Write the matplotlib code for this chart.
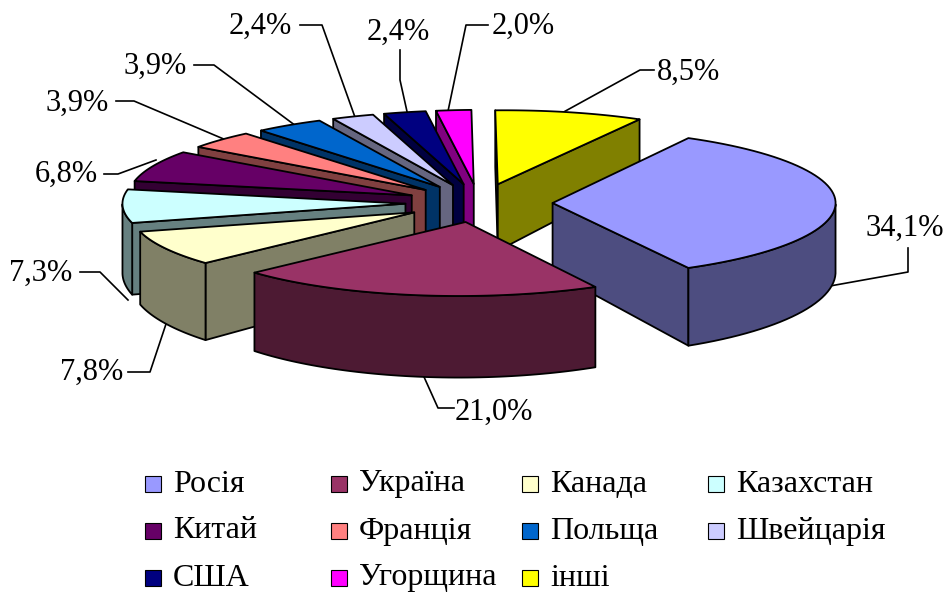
import numpy as np
import matplotlib
matplotlib.use("Agg")
import matplotlib.pyplot as plt
from matplotlib.patches import Polygon, Rectangle

categories = ["Росія", "Україна", "Канада", "Казахстан", "Китай", "Франція",
              "Польща", "Швейцарія", "США", "Угорщина", "інші"]
values = [34.1, 21.0, 7.8, 7.3, 6.8, 3.9, 3.9, 2.4, 2.4, 2.0, 8.5]
top_colors = ["#9999FF", "#993366", "#FFFFCC", "#CCFFFF", "#660066", "#FF8080",
              "#0066CC", "#CCCCFF", "#000080", "#FF00FF", "#FFFF00"]

plt.rcParams["font.family"] = ["Liberation Serif", "DejaVu Serif"]

# projection of the pie plane, in image pixels
CX, CY = 479, 203
RX, RY = 283, 74
EXPLODE = 0.26
DEPTH = 69
DEPTH_SLOPE = 10
SHEAR = 7


def project(u, v, shear=0.0, down=False):
    y = CY + RY * v + ((DEPTH + DEPTH_SLOPE * v) if down else 0)
    return CX + RX * u - shear * v, y


def darker(c):
    r, g, b = matplotlib.colors.to_rgb(c)
    return (r / 2, g / 2, b / 2)


fig = plt.figure(figsize=(9.44, 5.94), dpi=100)
ax = fig.add_axes([0, 0, 1, 1])
ax.set_xlim(0, 944)
ax.set_ylim(594, 0)
ax.axis("off")

shares = np.array(values) / sum(values) * 360
start = -shares[0] / 2
slices = []
for i, sh in enumerate(shares):
    t1, t2 = np.radians(start), np.radians(start + sh)
    mid = (t1 + t2) / 2
    slices.append((i, t1, t2, mid))
    start += sh

# far slices first
for i, t1, t2, mid in sorted(slices, key=lambda q: np.sin(q[3])):
    ou, ov = EXPLODE * np.cos(mid), EXPLODE * np.sin(mid)
    th = np.linspace(t1, t2, 60)
    au, av = ou + np.cos(th), ov + np.sin(th)
    side = darker(top_colors[i])
    shear = SHEAR * abs(np.sin(mid))
    kw = dict(edgecolor="black", linewidth=1.3, joinstyle="round", zorder=2)

    walls = []
    if -np.cos(t1) > 0:
        walls.append([(ou, ov), (au[0], av[0])])
    if np.cos(t2) > 0:
        walls.append([(ou, ov), (au[-1], av[-1])])
    for (a, b) in walls:
        pts = [project(*a, shear), project(*b, shear),
               project(*b, shear, down=True), project(*a, shear, down=True)]
        ax.add_patch(Polygon(pts, facecolor=side, **kw))

    # outer wall, only the part facing the viewer
    front = np.sin(th) > 0
    if front.any():
        uu, vv = au[front], av[front]
        upper = [project(a, b, shear) for a, b in zip(uu, vv)]
        lower = [project(a, b, shear, down=True) for a, b in zip(uu, vv)]
        ax.add_patch(Polygon(upper + lower[::-1], facecolor=side, **kw))

    top = [project(ou, ov, shear)] + [project(a, b, shear) for a, b in zip(au, av)]
    ax.add_patch(Polygon(top, facecolor=top_colors[i], **kw))

# data labels: text position and leader polyline, pixel layout
label_pos = [(905, 228), (494, 412), (92, 372), (41, 273), (66, 174), (77, 103),
             (155, 66), (260, 26), (398, 32), (523, 26), (689, 72)]
leaders = [
    [(830, 286), (908, 272), (908, 248)],
    [(420, 368), (438, 408), (454, 408)],
    [(168, 318), (150, 372), (128, 372)],
    [(128, 300), (100, 272), (80, 272)],
    [(156, 160), (118, 174), (104, 174)],
    [(226, 140), (134, 101), (116, 101)],
    [(296, 126), (214, 65), (194, 65)],
    [(356, 120), (322, 25), (300, 25)],
    [(408, 116), (400, 80), (400, 50)],
    [(447, 116), (466, 25), (488, 25)],
    [(560, 114), (640, 70), (654, 70)],
]
for v, (x, y), line in zip(values, label_pos, leaders):
    xs, ys = zip(*line)
    ax.plot(xs, ys, color="black", lw=1.2, zorder=1)
    ax.text(x, y, f"{v:.1f}%".replace(".", ","), fontsize=22, ha="center", va="center", zorder=4)

# legend, filled row by row
col_x = [145, 331, 522, 708]
row_y = [484, 531, 578]
for i, name in enumerate(categories):
    x, y = col_x[i % 4], row_y[i // 4]
    ax.add_patch(Rectangle((x, y - 8), 16, 16, facecolor=top_colors[i], edgecolor="black", lw=0.8))
    ax.text(x + 28, y, name, fontsize=23, ha="left", va="center")

fig.savefig("out.png", dpi=100)
plt.close(fig)
